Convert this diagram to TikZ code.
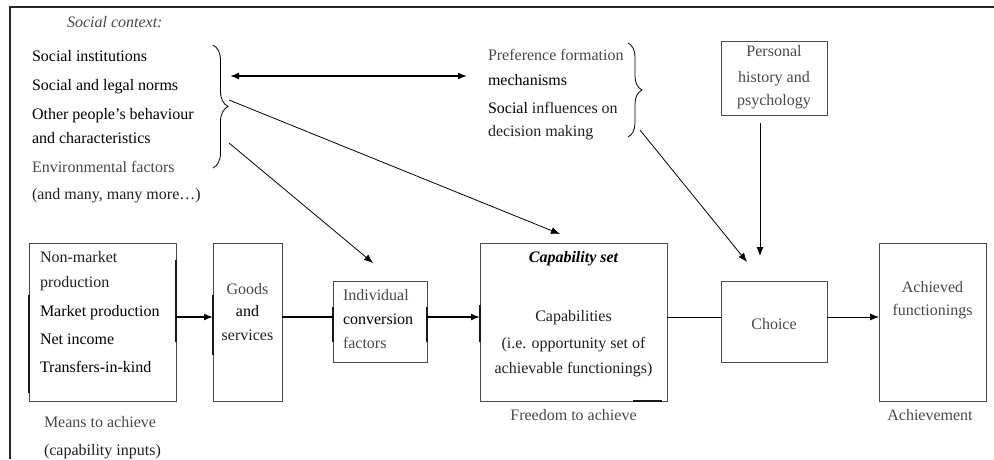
\documentclass[tikz,border=0pt]{standalone}
\usepackage{fontspec}
\setmainfont{Liberation Serif}
\usetikzlibrary{arrows.meta,decorations.pathreplacing}
\newcommand\figfont{\fontsize{16}{19}\selectfont}

\begin{document}
\begin{tikzpicture}[x=1pt,y=-1pt,
  box/.style={draw=black!70, line width=0.8pt, inner sep=0pt, outer sep=0pt},
  txt/.style={inner sep=0pt, outer sep=0pt, font=\figfont, text=black!88},
  lite/.style={text=black!72},
  dark/.style={text=black},
  thinline/.style={line width=0.8pt, draw=black},
  thickline/.style={line width=1.6pt, draw=black},
  tip/.style={-{Latex[length=9pt,width=7pt]}},
  twotip/.style={{Latex[length=9pt,width=7pt]}-{Latex[length=9pt,width=7pt]}},
  edgemark/.style={line width=1.6pt, draw=black!90},
  bracket/.style={thinline, decorate, decoration={brace, amplitude=#1}},
]
\useasboundingbox (0,0) rectangle (994,459);

% frame along the top and left
\draw[line width=1.6pt, draw=black!85] (10,459) -- (10,7) -- (994,7);

% ---- social context block
\node[txt, lite, anchor=base west, font=\figfont\itshape] (sctitle) at (67,27) {Social context:};
\node[txt, dark, anchor=base west] (sc1) at (32,61) {Social institutions};
\node[txt, dark, anchor=base west] (sc2) at (32,90) {Social and legal norms};
\node[txt, dark, anchor=base west] (sc3) at (32,119) {Other people’s behaviour};
\node[txt, dark, anchor=base west] (sc4) at (32,143) {and characteristics};
\node[txt, lite, anchor=base west] (sc5) at (32,172) {Environmental factors};
\node[txt, anchor=base west] (sc6) at (32,199) {(and many, many more…)};
\draw[bracket=15pt] (213,45) -- (213,168);

% ---- preference block
\node[txt, lite, anchor=base west] (pf1) at (488,60) {Preference formation};
\node[txt, dark, anchor=base west] (pf2) at (488,85) {mechanisms};
\node[txt, anchor=base west] (pf3) at (488,113) {{\color{black}Social} influences on};
\node[txt, anchor=base west] (pf4) at (488,136) {decision making};
\draw[bracket=14pt] (628,43) -- (628,137);

% ---- personal history
\node[box, minimum width=106pt, minimum height=74pt] (pers) at (774,78) {};
\node[txt, lite, anchor=base] (ps1) at (774,56) {Personal};
\node[txt, lite, anchor=base] (ps2) at (774,82) {history and};
\node[txt, lite, anchor=base] (ps3) at (774,105) {psychology};

% ---- main row of boxes
\node[box, minimum width=147pt, minimum height=158pt] (means) at (102.5,322) {};
\node[box, minimum width=69pt, minimum height=158pt] (goods) at (247.5,322) {};
\node[box, minimum width=94pt, minimum height=81pt] (conv) at (380,321.5) {};
\node[box, minimum width=187pt, minimum height=158pt] (cap) at (573.5,322) {};
\node[box, minimum width=106pt, minimum height=81pt] (choice) at (774,321.5) {};
\node[box, minimum width=107pt, minimum height=158pt] (achv) at (932.5,322) {};

% darker stretches on some box edges
\draw[edgemark] (29,295) -- (29,393);
\draw[edgemark] (176,260) -- (176,342);
\draw[edgemark] (213,295) -- (213,355);
\draw[edgemark] (333,307) -- (333,342);
\draw[edgemark] (427,307) -- (427,342);
\draw[edgemark] (480,305) -- (480,342);
\draw[edgemark] (633,401) -- (662,401);

% means box text
\node[txt, anchor=base west] (m1) at (40,262) {Non-market};
\node[txt, anchor=base west] (m2) at (40,287) {production};
\node[txt, dark, anchor=base west] (m3) at (40,316) {Market production};
\node[txt, dark, anchor=base west] (m4) at (40,344) {Net income};
\node[txt, dark, anchor=base west] (m5) at (40,372) {Transfers-in-kind};
\node[txt, lite, anchor=base west] (mc1) at (44,427) {Means to achieve};
\node[txt, anchor=base west] (mc2) at (44,455) {(capability inputs)};

% goods box text
\node[txt, lite, anchor=base] (g1) at (247.5,294) {Goods};
\node[txt, dark, anchor=base] (g2) at (247.5,316) {and};
\node[txt, anchor=base] (g3) at (247.5,340) {services};

% conversion factors text
\node[txt, lite, anchor=base west] (c1) at (343,300) {Individual};
\node[txt, dark, anchor=base west] (c2) at (343,324) {conversion};
\node[txt, lite, anchor=base west] (c3) at (343,348) {factors};

% capability set text
\node[txt, anchor=base, font=\figfont\bfseries\itshape, text=black] (k0) at (573.5,262) {Capability set};
\node[txt, anchor=base] (k1) at (573.5,321) {Capabilities};
\node[txt, anchor=base] (k2) at (573.5,348) {(i.e. opportunity set of};
\node[txt, anchor=base] (k3) at (573.5,373) {achievable functionings)};
\node[txt, lite, anchor=base] (kc) at (573.5,420) {Freedom to achieve};

% choice and achievement text
\node[txt, lite, anchor=base] (ch) at (774,329) {Choice};
\node[txt, lite, anchor=base] (a1) at (932.5,292) {Achieved};
\node[txt, lite, anchor=base] (a2) at (932.5,315) {functionings};
\node[txt, lite, anchor=base] (ac) at (930,420) {Achievement};

% ---- connector ends
\coordinate (dblL) at (230,76);
\coordinate (dblR) at (467,76);
\coordinate (scA) at (229,100);
\coordinate (scB) at (229,143);
\coordinate (capIn) at (560,234);
\coordinate (convIn) at (373,263);
\coordinate (pfOut) at (640,130);
\coordinate (choiceInA) at (747,262);
\coordinate (persOut) at (760,123);
\coordinate (choiceInB) at (760,256);

% ---- connectors
\draw[thickline, twotip] (dblL) -- (dblR);
\draw[thinline, tip] (scA) -- (capIn);
\draw[thinline, tip] (scB) -- (convIn);
\draw[thinline, tip] (pfOut) -- (choiceInA);
\draw[thinline, tip] (persOut) -- (choiceInB);

\draw[thickline, tip] ([yshift=5pt]means.east) -- ([yshift=5pt]goods.west);
\draw[thickline] ([yshift=5pt]goods.east) -- ([yshift=4.5pt]conv.west);
\draw[thickline, tip] ([yshift=4.5pt]conv.east) -- ([yshift=5pt]cap.west);
\draw[thinline] ([yshift=5pt]cap.east) -- ([yshift=4.5pt]choice.west);
\draw[thinline, tip] ([yshift=4.5pt]choice.east) -- ([yshift=5pt]achv.west);
\end{tikzpicture}
\end{document}
